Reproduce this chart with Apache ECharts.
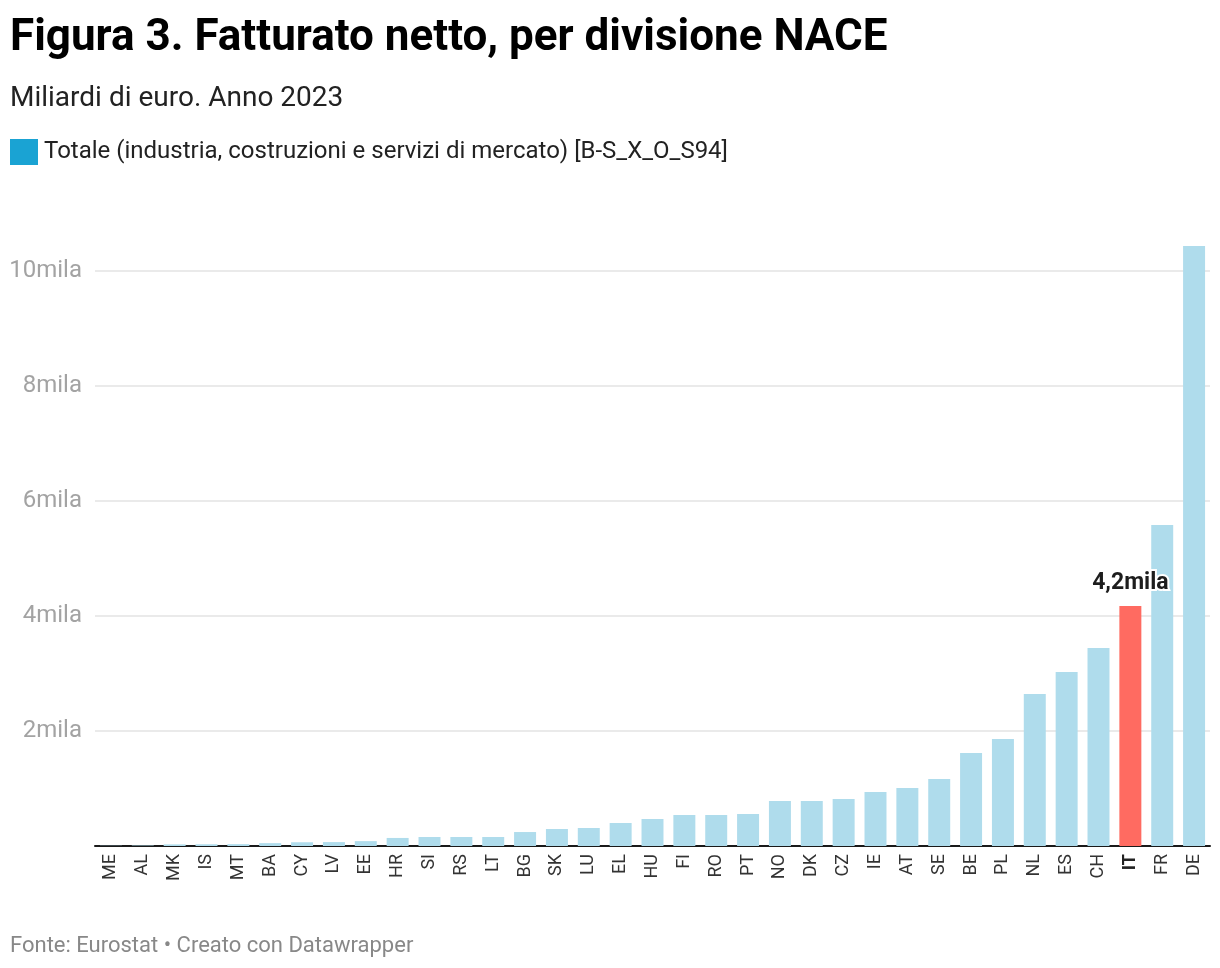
<!DOCTYPE html>
<html>
<head>
<meta charset="utf-8">
<script src="https://cdn.jsdelivr.net/npm/echarts@6/dist/echarts.min.js"></script>
<style>
html,body{margin:0;padding:0;background:#fff;}
#chart{width:1220px;height:968px;}
</style>
</head>
<body>
<div id="chart"></div>
<script>
var countries = ["ME","AL","MK","IS","MT","BA","CY","LV","EE","HR","SI","RS","LT","BG","SK","LU","EL","HU","FI","RO","PT","NO","DK","CZ","IE","AT","SE","BE","PL","NL","ES","CH","IT","FR","DE"];
var turnover = [4, 8, 28, 30, 32, 50, 65, 68, 85, 140, 157, 157, 157, 243, 296, 313, 400, 470, 539, 539, 557, 783, 783, 817, 939, 1009, 1165, 1617, 1861, 2643, 3026, 3443, 4174, 5583, 10435];
var yTicks = [0, 2000, 4000, 6000, 8000, 10000];
var highlight = "IT";
var highlightLabel = "4,2mila";
var seriesName = "Totale (industria, costruzioni e servizi di mercato) [B-S_X_O_S94]";

var FONT = "Roboto, 'Noto Sans', sans-serif";
var chart = echarts.init(document.getElementById('chart'), null, {renderer:'canvas'});

var data = turnover.map(function(v, i){
  var item = {value: v};
  if (countries[i] === highlight) {
    item.itemStyle = {color: '#ff6b61'};
    item.label = {
      show: true, position: 'top', distance: 11,
      formatter: highlightLabel,
      fontFamily: FONT, fontSize: 23, fontWeight: 'bold', color: '#1d1d1d',
      textBorderColor: '#fff', textBorderWidth: 4
    };
  }
  return item;
});

chart.setOption({
  animation: false,
  backgroundColor: '#fff',
  title: [
    {text: 'Figura 3. Fatturato netto, per divisione NACE', left: 5, top: 12,
     textStyle: {fontFamily: FONT, fontSize: 44, fontWeight: 'bold', color: '#000'}},
    {text: 'Miliardi di euro. Anno 2023', left: 5, top: 80,
     textStyle: {fontFamily: FONT, fontSize: 28, fontWeight: 'normal', color: '#222'}},
    {text: 'Fonte: Eurostat \u2022 Creato con Datawrapper', left: 5, top: 930,
     textStyle: {fontFamily: FONT, fontSize: 22, fontWeight: 'normal', color: '#888'}}
  ],
  legend: {
    left: 10, top: 139, padding: 0, itemWidth: 28, itemHeight: 26, icon: 'rect',
    selectedMode: false,
    data: [{name: seriesName, itemStyle: {color: '#1aa3d3'}}],
    textStyle: {fontFamily: FONT, fontSize: 24, color: '#222', padding: [2,0,0,1]}
  },
  grid: {left: 95, right: 10, top: 271, bottom: 122, containLabel: false},
  xAxis: {
    type: 'category', data: countries,
    axisLine: {lineStyle: {color: '#1a1a1a', width: 2}},
    axisTick: {show: false},
    axisLabel: {
      rotate: 90, fontFamily: FONT, fontSize: 18, color: '#333', margin: 8,
      formatter: function(v){ return v === highlight ? '{b|' + v + '}' : v; },
      rich: {b: {fontFamily: FONT, fontSize: 18, fontWeight: 'bold', color: '#222'}}
    }
  },
  yAxis: {
    type: 'value', min: yTicks[0], max: yTicks[yTicks.length-1], interval: 2000,
    axisLine: {show: false}, axisTick: {show: false},
    splitLine: {lineStyle: {color: '#e3e3e3', width: 1.5}},
    axisLabel: {
      fontFamily: FONT, fontSize: 24, color: '#a3a3a3', margin: 13, padding: [4,0,0,0],
      formatter: function(v){ return v === 0 ? '' : (v/1000) + 'mila'; }
    }
  },
  series: [{
    name: seriesName, type: 'bar', data: data, clip: false,
    barCategoryGap: '31%',
    itemStyle: {color: '#afdcec'},
    emphasis: {disabled: true}
  }]
});
</script>
</body>
</html>
